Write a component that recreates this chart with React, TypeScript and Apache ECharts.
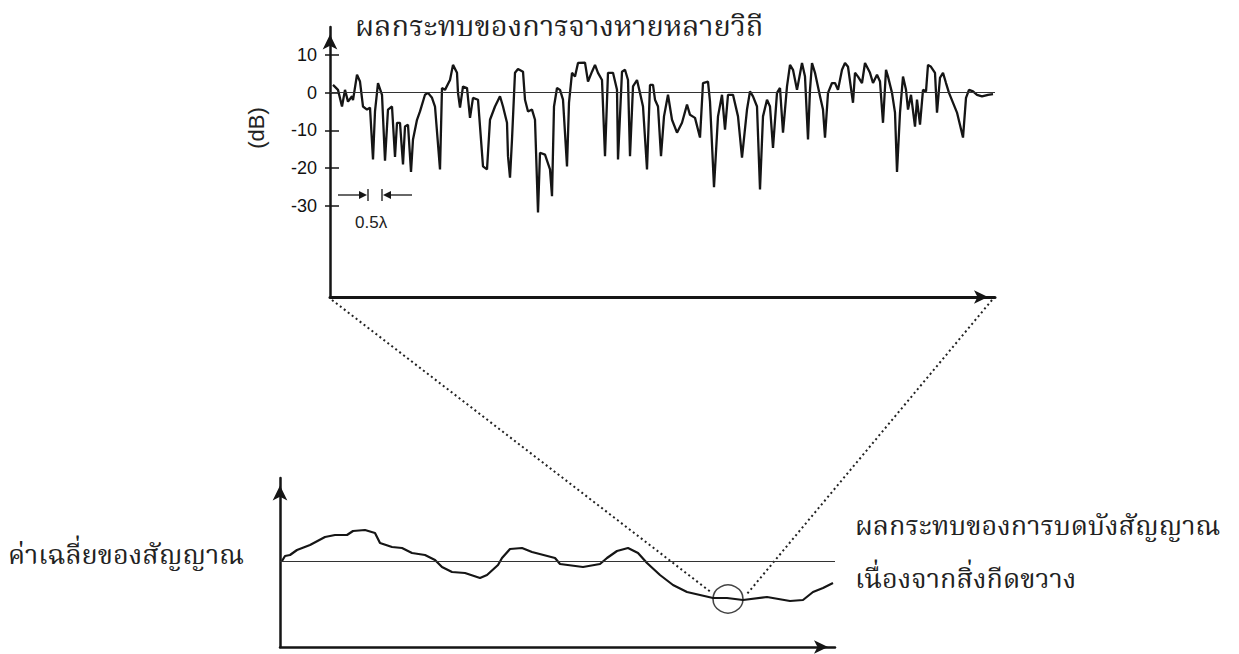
import React, { useEffect, useRef } from "react";
import * as echarts from "echarts";

// ---- Top chart: multipath fading (dB) vs position ----
const topX = [3, 8, 12, 15, 18, 22, 23, 27, 30, 33, 37, 40, 43, 45, 48, 52, 55, 58, 62, 65, 67, 70, 73, 75, 78, 81, 83, 87, 90, 95, 98, 102, 105, 110, 112, 115, 120, 123, 127, 128, 130, 133, 137, 140, 143, 148, 153, 157, 160, 165, 170, 173, 177, 178, 180, 182, 185, 188, 193, 195, 198, 202, 205, 208, 210, 215, 220, 222, 224, 227, 230, 233, 237, 239, 242, 245, 248, 255, 258, 262, 265, 268, 272, 275, 278, 283, 287, 288, 292, 295, 298, 300, 303, 307, 310, 313, 317, 320, 323, 325, 328, 331, 334, 338, 342, 347, 352, 357, 360, 365, 370, 373, 378, 380, 384, 388, 392, 395, 398, 403, 408, 412, 417, 420, 423, 427, 430, 433, 437, 440, 443, 447, 450, 453, 457, 460, 463, 467, 472, 475, 478, 480, 482, 485, 490, 493, 495, 498, 502, 505, 508, 512, 515, 518, 523, 525, 528, 532, 535, 540, 543, 547, 550, 553, 556, 558, 562, 565, 567, 570, 573, 576, 578, 581, 585, 587, 590, 593, 596, 598, 601, 605, 607, 610, 613, 616, 619, 627, 633, 636, 639, 643, 647, 652, 658, 663];
const topDb = [2, 0.7, -3.7, 0.7, -2.4, -1, -2, 4.7, 2.9, -3.7, -4.5, -4, -17.7, -5, 2.5, -0.6, -18, -4.5, -3.7, -17, -8, -8, -19, -9, -8.5, -21, -12.4, -7.2, -5, -0.6, -0.1, -1.4, -3.7, -20.3, 1.2, 0.7, 3.3, 7.3, 5.2, -0.1, -4, 1.6, 1.2, -6.7, -1.4, -1.9, -19.5, -20.3, -7.2, -3.7, -1, -3.7, -8, -16.8, -22.5, -12.4, 5.2, 6.2, 5.5, -1.9, -5, -4.5, -7.2, -31.7, -15.9, -16.4, -20.3, -27.4, -3.7, 1.2, 0.7, -1.9, -19.5, -2.7, 5.2, 4.2, 7.8, 7.9, 2.9, 5.5, 7.3, 5.2, 3.3, -16.8, 5.2, 5.2, 0.7, -17.7, 5.5, 6, 3.3, -16.8, 1.6, 3.3, -0.1, -3.7, -20.3, 2, 2, -1.9, -3.7, -16.8, -6.3, -0.6, -7.2, -10.6, -8, -3.2, -5.9, -6.7, -11.9, 2.5, 2.9, -2.4, -25, -6.3, -0.6, -9.8, -0.6, -0.6, -6.3, -17.2, -4.5, 0.3, -1, -3.7, -25.6, -6.3, -1.9, -3.7, -14.6, -0.1, 1.2, -10.6, 1.6, 7.3, 6, 0.7, 7.8, 4.2, -12.4, 0.7, 7.8, 5.2, -1, -4.5, -11.9, -0.1, 2.5, 2.5, 0.7, 6, 7.8, 6.8, -2.7, 5.2, 4.2, 2.5, 7.8, 5.2, 2.5, 4.7, 2.9, -8, 6, 4.2, -0.1, -5.3, -21, -5.3, 4.2, 0.7, -4.5, -0.6, -9, -1.9, -8.5, 0.7, 0.3, 7.3, 6.8, 5.2, -5.3, 3.9, 5.2, 2.5, -0.1, -5.3, -11.9, -1.4, 0.7, 0.3, -0.6, -1, -0.6, -0.4];
const topTicks = [10, 0, -10, -20, -30];
const topRange = { xMin: 0, xMax: 665, yMin: -54, yMax: 17.3 };

// ---- Bottom chart: average (shadowed) signal ----
const botX = [2, 5, 10, 17, 30, 45, 55, 67, 73, 85, 95, 100, 112, 122, 132, 145, 155, 162, 172, 185, 200, 207, 218, 222, 230, 242, 252, 275, 280, 303, 320, 327, 337, 348, 358, 367, 380, 393, 407, 420, 433, 447, 463, 487, 510, 523, 533, 543, 553];
const botLevel = [0, 1.25, 1.5, 2.75, 4, 6, 6.5, 6.5, 7.5, 7.75, 7, 4.5, 3.5, 3.25, 2, 1.5, 0.25, -1.5, -2.75, -3, -4.25, -3.5, -1, 0.75, 3, 3.25, 2.25, 0.75, -0.75, -1.5, -0.75, 0.75, 2.5, 3.25, 2, -0.5, -3.5, -6, -7.75, -8.5, -9.25, -9.25, -9.75, -9, -10, -9.75, -7.75, -6.75, -5.5];
const botRange = { xMin: 0, xMax: 555, yMin: -21.5, yMax: 20.75 };
const shadowPoint = [448, -9.5];

const texts = {
  title: "ผลกระทบของการจางหายหลายวิถี",
  unit: "(dB)",
  lambda: "0.5λ",
  mean: "ค่าเฉลี่ยของสัญญาณ",
  shadow1: "ผลกระทบของการบดบังสัญญาณ",
  shadow2: "เนื่องจากสิ่งกีดขวาง",
};

const thaiFont = '"Noto Serif Thai", Norasi, "TH Sarabun New", "Noto Sans Thai", Garuda, Loma, serif';
const numFont = '"Liberation Sans", Arial, sans-serif';
const ink = "#151515";

export default function App() {
  const ref = useRef<HTMLDivElement>(null);
  useEffect(() => {
    if (!ref.current) return;
    const chart = echarts.init(ref.current, null, { renderer: "svg" });
    const axisLineStyle = (w: number) => ({ color: ink, width: w });
    chart.setOption({
      animation: false,
      backgroundColor: "#ffffff",
      grid: [
        { left: 330, top: 27, width: 665, height: 270 },
        { left: 280, top: 478, width: 555, height: 169 },
      ],
      xAxis: [
        {
          type: "value", gridIndex: 0, min: topRange.xMin, max: topRange.xMax, position: "bottom",
          axisLine: { show: true, onZero: false, lineStyle: axisLineStyle(3), symbol: ["none", "arrow"], symbolSize: [10, 14], symbolOffset: [0, -7] },
          axisTick: { show: false }, axisLabel: { show: false }, splitLine: { show: false },
        },
        {
          type: "value", gridIndex: 1, min: botRange.xMin, max: botRange.xMax, position: "bottom",
          axisLine: { show: true, onZero: false, lineStyle: axisLineStyle(2.5), symbol: ["none", "arrow"], symbolSize: [10, 14], symbolOffset: [0, -7] },
          axisTick: { show: false }, axisLabel: { show: false }, splitLine: { show: false },
        },
      ],
      yAxis: [
        {
          type: "value", gridIndex: 0, min: topRange.yMin, max: topRange.yMax, position: "left",
          axisLine: { show: true, onZero: false, lineStyle: axisLineStyle(2.5), symbol: ["none", "arrow"], symbolSize: [11, 15], symbolOffset: [0, -7.5] },
          axisTick: { show: true, length: 5, lineStyle: { color: ink, width: 1.5 }, customValues: topTicks },
          axisLabel: { show: true, margin: 13, customValues: topTicks, color: "#111", fontFamily: numFont, fontSize: 18 },
          splitLine: { show: false },
        },
        {
          type: "value", gridIndex: 0, min: topRange.yMin, max: topRange.yMax, position: "left", offset: 0,
          axisLine: { show: false, onZero: false },
          axisTick: { show: true, inside: true, length: 9, lineStyle: { color: ink, width: 1.5 }, customValues: topTicks },
          axisLabel: { show: false }, splitLine: { show: false },
        },
        {
          type: "value", gridIndex: 1, min: botRange.yMin, max: botRange.yMax, position: "left",
          axisLine: { show: true, onZero: false, lineStyle: axisLineStyle(2.5), symbol: ["none", "arrow"], symbolSize: [11, 15], symbolOffset: [0, -7.5] },
          axisTick: { show: false }, axisLabel: { show: false }, splitLine: { show: false },
        },
      ],
      series: [
        {
          type: "line", xAxisIndex: 0, yAxisIndex: 0, showSymbol: false,
          data: topX.map((x, i) => [x, topDb[i]]),
          lineStyle: { color: ink, width: 2.3 },
          markLine: {
            silent: true, symbol: ["none", "none"], label: { show: false },
            lineStyle: { color: "#333", width: 1, type: "solid" },
            data: [{ yAxis: 0 }],
          },
        },
        {
          type: "line", xAxisIndex: 1, yAxisIndex: 2, showSymbol: false,
          data: botX.map((x, i) => [x, botLevel[i]]),
          lineStyle: { color: ink, width: 2.2 },
          markLine: {
            silent: true, symbol: ["none", "none"], label: { show: false },
            lineStyle: { color: "#333", width: 1, type: "solid" },
            data: [{ yAxis: 0 }],
          },
        },
        {
          type: "scatter", xAxisIndex: 1, yAxisIndex: 2,
          data: [shadowPoint], symbol: "circle", symbolSize: [30, 28],
          itemStyle: { color: "rgba(0,0,0,0)", borderColor: ink, borderWidth: 1.5 },
        },
      ],
    });

    const tl = chart.convertToPixel({ gridIndex: 0 }, [topRange.xMin, topRange.yMin]) as number[];
    const tr = chart.convertToPixel({ gridIndex: 0 }, [topRange.xMax, topRange.yMin]) as number[];
    const c = chart.convertToPixel({ gridIndex: 1 }, shadowPoint) as number[];
    const dotted = { stroke: "#222", lineWidth: 2, lineDash: [2, 3] };
    const ay = 195;
    chart.setOption({
      graphic: [
        { type: "line", shape: { x1: tl[0] + 2, y1: tl[1] + 3, x2: c[0] - 16, y2: c[1] - 6 }, style: dotted },
        { type: "line", shape: { x1: tr[0] - 3, y1: tr[1] + 3, x2: c[0] + 19, y2: c[1] - 5 }, style: dotted },
        { type: "text", x: 355, y: 28, style: { text: texts.title, font: `29px ${thaiFont}`, fill: "#222", verticalAlign: "middle" } },
        { type: "text", x: 256, y: 128, rotation: Math.PI / 2, style: { text: texts.unit, font: `22px ${numFont}`, fill: "#222", align: "center", verticalAlign: "middle" } },
        { type: "text", x: 355, y: 222, style: { text: texts.lambda, font: `17px ${numFont}`, fill: "#222", verticalAlign: "middle" } },
        { type: "line", shape: { x1: 338, y1: ay, x2: 360, y2: ay }, style: { stroke: ink, lineWidth: 1.3 } },
        { type: "polygon", shape: { points: [[359, ay - 4], [367, ay], [359, ay + 4]] }, style: { fill: ink } },
        { type: "line", shape: { x1: 368, y1: ay - 6, x2: 368, y2: ay + 6 }, style: { stroke: ink, lineWidth: 1.3 } },
        { type: "line", shape: { x1: 382, y1: ay - 6, x2: 382, y2: ay + 6 }, style: { stroke: ink, lineWidth: 1.3 } },
        { type: "polygon", shape: { points: [[391, ay - 4], [383, ay], [391, ay + 4]] }, style: { fill: ink } },
        { type: "line", shape: { x1: 390, y1: ay, x2: 412, y2: ay }, style: { stroke: ink, lineWidth: 1.3 } },
        { type: "text", x: 8, y: 556, style: { text: texts.mean, font: `27px ${thaiFont}`, fill: "#222", verticalAlign: "middle" } },
        { type: "text", x: 855, y: 527, style: { text: texts.shadow1, font: `27px ${thaiFont}`, fill: "#222", verticalAlign: "middle" } },
        { type: "text", x: 855, y: 580, style: { text: texts.shadow2, font: `27px ${thaiFont}`, fill: "#222", verticalAlign: "middle" } },
      ],
    });
    return () => chart.dispose();
  }, []);
  return <div ref={ref} style={{ position: "fixed", left: 0, top: 0, width: 1239, height: 654 }} />;
}
